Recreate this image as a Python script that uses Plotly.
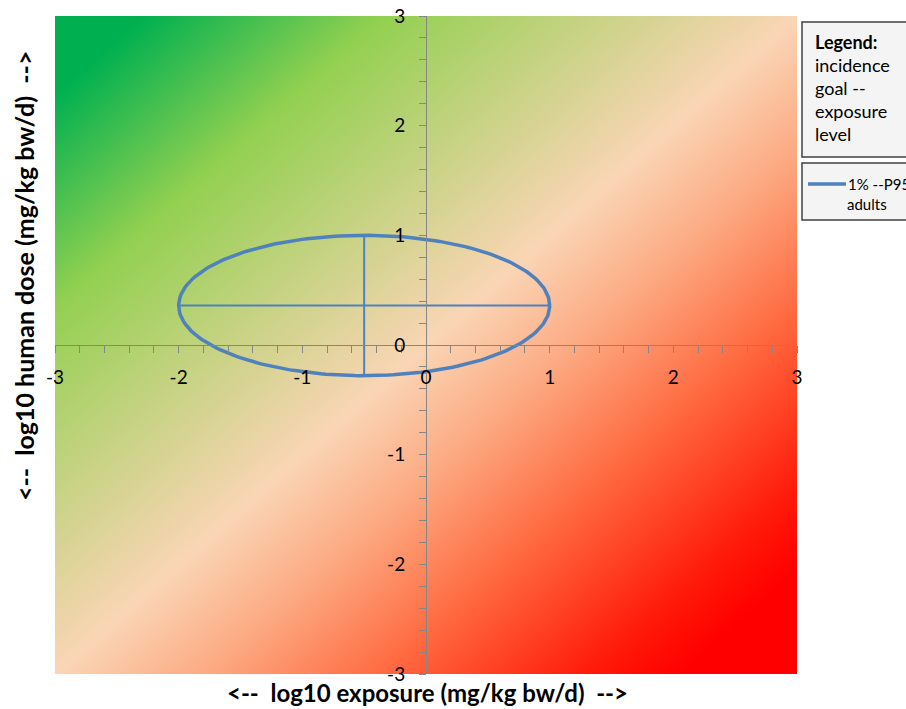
import numpy as np
import plotly.graph_objects as go

# ---- data ----
tick_vals = [-3, -2, -1, 0, 1, 2, 3]
tick_text = ["-3", "-2", "-1", "0", "1", "2", "3"]

# background gradient corner values (exposure minus dose)
grad_x = [-3, 3]
grad_y = [-3, 3]
grad_z = [[0, 6], [-6, 0]]

# ellipse: 1% --P95 adults
ell_cx = -0.5
ell_cy = 0.36
ell_rx = 1.5
ell_ry = 0.64

series_name = "1% --P95 adults"

W, H = 906, 709
L, R, T, B = 55, 797, 16, 674


def px(xp):
    return (xp - L) / (R - L)


def py(yp):
    return (B - yp) / (B - T)


fig = go.Figure()

fig.add_trace(go.Heatmap(
    x=grad_x, y=grad_y, z=grad_z, zsmooth="best", zmin=-6, zmax=6,
    showscale=False, hoverinfo="skip",
    colorscale=[
        [0.0, "#00b050"], [0.06, "#00b050"], [0.22, "#92d050"],
        [0.5, "#fad5b5"], [0.6, "#fcaa82"], [0.72, "#ff6a40"],
        [0.86, "#ff1a08"], [0.92, "#ff0000"], [1.0, "#ff0000"],
    ],
))

theta = np.linspace(0, 2 * np.pi, 241)
ex = ell_cx + ell_rx * np.cos(theta)
ey = ell_cy + ell_ry * np.sin(theta)
line_color = "#4f81bd"
fig.add_trace(go.Scatter(x=ex, y=ey, mode="lines", line=dict(color=line_color, width=3.5),
                         name=series_name, showlegend=False, hoverinfo="skip"))
fig.add_trace(go.Scatter(x=[ell_cx - ell_rx, ell_cx + ell_rx], y=[ell_cy, ell_cy], mode="lines",
                         line=dict(color=line_color, width=2), showlegend=False, hoverinfo="skip"))
fig.add_trace(go.Scatter(x=[ell_cx, ell_cx], y=[ell_cy - ell_ry, ell_cy + ell_ry], mode="lines",
                         line=dict(color=line_color, width=2), showlegend=False, hoverinfo="skip"))

axis_common = dict(
    range=[-3, 3], showgrid=False, zeroline=False, showline=True, linecolor="#868686", linewidth=1,
    ticks="outside", ticklen=7, tickcolor="#868686", tickwidth=1,
    tickmode="array", tickvals=tick_vals, ticktext=tick_text,
    tickfont=dict(family="Lato, Open Sans, sans-serif", size=19, color="#000"),
    minor=dict(dtick=0.2, ticks="outside", ticklen=7, tickcolor="#868686", tickwidth=1, showgrid=False),
    anchor="free", position=0.5, fixedrange=True, automargin=False,
)
fig.update_layout(
    width=W, height=H, margin=dict(l=L, r=W - R, t=T, b=H - B, autoexpand=False),
    paper_bgcolor="white", plot_bgcolor="white", showlegend=False,
    xaxis=dict(**axis_common, ticklabelstandoff=8),
    yaxis=dict(**axis_common, ticklabelstandoff=10),
)


def note(xp, yp, text, size, xanchor="center", angle=0):
    fig.add_annotation(xref="paper", yref="paper", x=px(xp), y=py(yp), xanchor=xanchor, yanchor="middle",
                       showarrow=False, text=text, textangle=angle,
                       font=dict(family="Lato, Open Sans, sans-serif", size=size, color="#000"))


note(427, 693, "<b><--  log10 exposure (mg/kg bw/d)  --></b>", 24)
note(24, 276, "<b><--  log10 human dose (mg/kg bw/d)  --></b>", 25, angle=-90)

# legend boxes
fig.add_shape(type="rect", xref="paper", yref="paper", x0=px(802), x1=px(912), y0=py(157), y1=py(22),
              line=dict(color="#404040", width=1.5), fillcolor="#f4f4f4", layer="above")
fig.add_shape(type="rect", xref="paper", yref="paper", x0=px(802), x1=px(912), y0=py(220), y1=py(163),
              line=dict(color="#404040", width=1.5), fillcolor="#f4f4f4", layer="above")
lines = ["<b>Legend:</b>", "incidence", "goal --", "exposure", "level"]
for i, t in enumerate(lines):
    note(813, 42 + 23 * i, t, 18, xanchor="left")
fig.add_shape(type="line", xref="paper", yref="paper", x0=px(808), x1=px(846), y0=py(184), y1=py(184),
              line=dict(color=line_color, width=3.5), layer="above")
note(846, 184, "1% --P95", 15, xanchor="left")
note(867, 204, "adults", 15)

fig.write_html("out.html")
